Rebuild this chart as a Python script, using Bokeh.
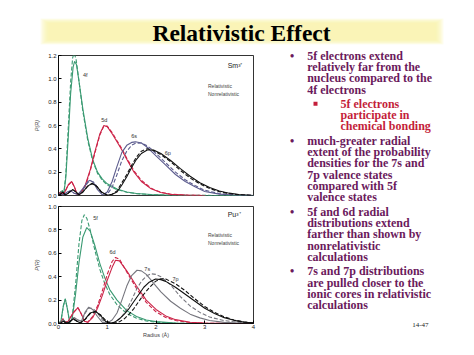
from bokeh.plotting import figure
from bokeh.layouts import column, row
from bokeh.models import (Range1d, FixedTicker, PrintfTickFormatter, Legend,
                          LegendItem, Label)
from bokeh.core.properties import value
from bokeh.embed import file_html
from bokeh.resources import INLINE

# ---------------- data ----------------
TITLE = "Relativistic Effect"
X_TICKS = [0, 1, 2, 3, 4]
YA_TICKS = [0.0, 0.2, 0.4, 0.6, 0.8, 1.0, 1.2]
YB_TICKS = [0.0, 0.2, 0.4, 0.6, 0.8, 1.0]

# (a) Sm3+
sm_4f_r_R = [0, 0.04, 0.08, 0.11, 0.15, 0.2, 0.25, 0.3, 0.33, 0.37, 0.42, 0.5, 0.6, 0.7, 0.8, 0.9, 1.0, 1.2, 1.4, 1.6, 1.9, 2.2, 2.6, 4.0]
sm_4f_r_P = [0, 0.03, 0.04, 0.02, 0.15, 0.5, 0.88, 1.1, 1.15, 1.12, 0.98, 0.74, 0.49, 0.31, 0.2, 0.14, 0.1, 0.055, 0.03, 0.017, 0.008, 0.003, 0.001, 0]
sm_4f_n_R = [0, 0.04, 0.08, 0.11, 0.15, 0.2, 0.25, 0.29, 0.32, 0.36, 0.42, 0.5, 0.6, 0.7, 0.8, 0.9, 1.0, 1.2, 1.4, 1.6, 1.9, 2.2, 2.6, 4.0]
sm_4f_n_P = [0, 0.03, 0.04, 0.02, 0.18, 0.58, 0.98, 1.18, 1.22, 1.17, 0.98, 0.72, 0.47, 0.3, 0.19, 0.13, 0.09, 0.05, 0.028, 0.016, 0.007, 0.003, 0.001, 0]

sm_5d_R = [0, 0.04, 0.08, 0.13, 0.2, 0.27, 0.33, 0.38, 0.45, 0.55, 0.65, 0.75, 0.85, 0.93, 1.0, 1.1, 1.2, 1.3, 1.4, 1.55, 1.7, 1.9, 2.1, 2.3, 2.6, 3.0]
sm_5d_r_P = [0, 0.03, 0.01, 0.03, 0.09, 0.12, 0.07, 0.01, 0.02, 0.09, 0.22, 0.38, 0.53, 0.6, 0.59, 0.53, 0.46, 0.39, 0.31, 0.2, 0.12, 0.057, 0.025, 0.01, 0.003, 0]
sm_5d_n_P = [0, 0.03, 0.01, 0.03, 0.09, 0.12, 0.07, 0.01, 0.02, 0.08, 0.21, 0.37, 0.52, 0.595, 0.595, 0.54, 0.47, 0.4, 0.32, 0.21, 0.13, 0.062, 0.028, 0.011, 0.003, 0]

sm_6s_R = [0, 0.04, 0.08, 0.12, 0.18, 0.25, 0.32, 0.4, 0.5, 0.6, 0.65, 0.72, 0.8, 0.9, 1.0, 1.1, 1.2, 1.3, 1.4, 1.5, 1.58, 1.7, 1.8, 1.9, 2.0, 2.2, 2.4, 2.6, 2.8, 3.0, 3.3, 3.6, 4.0]
sm_6s_r_P = [0, 0.02, 0.005, 0.01, 0.03, 0.04, 0.02, 0.01, 0.06, 0.12, 0.13, 0.11, 0.05, 0.005, 0.03, 0.12, 0.25, 0.37, 0.43, 0.455, 0.46, 0.45, 0.42, 0.38, 0.34, 0.26, 0.18, 0.12, 0.075, 0.035, 0.012, 0.004, 0]
sm_6s_n_P = [0, 0.02, 0.005, 0.01, 0.03, 0.04, 0.02, 0.01, 0.05, 0.11, 0.125, 0.115, 0.07, 0.02, 0.01, 0.07, 0.18, 0.3, 0.38, 0.43, 0.447, 0.45, 0.43, 0.4, 0.36, 0.28, 0.2, 0.135, 0.085, 0.045, 0.016, 0.005, 0]

sm_6p_R = [0, 0.04, 0.08, 0.14, 0.2, 0.29, 0.36, 0.42, 0.5, 0.6, 0.69, 0.78, 0.88, 1.0, 1.1, 1.2, 1.3, 1.4, 1.5, 1.6, 1.7, 1.82, 1.95, 2.1, 2.3, 2.5, 2.7, 2.9, 3.1, 3.3, 3.5, 3.7, 4.0]
sm_6p_r_P = [0, 0.01, 0.03, 0.005, 0.02, 0.05, 0.03, 0.005, 0.03, 0.08, 0.105, 0.08, 0.03, 0.002, 0.01, 0.03, 0.09, 0.16, 0.24, 0.31, 0.36, 0.39, 0.39, 0.36, 0.3, 0.23, 0.165, 0.11, 0.068, 0.038, 0.02, 0.008, 0]
sm_6p_n_P = [0, 0.01, 0.03, 0.005, 0.02, 0.05, 0.03, 0.005, 0.03, 0.08, 0.1, 0.08, 0.03, 0.002, 0.01, 0.04, 0.11, 0.18, 0.26, 0.33, 0.38, 0.4, 0.385, 0.35, 0.29, 0.215, 0.15, 0.1, 0.06, 0.033, 0.017, 0.007, 0]

# (b) Pu3+
pu_5f_r_R = [0, 0.05, 0.1, 0.14, 0.18, 0.23, 0.28, 0.35, 0.42, 0.5, 0.58, 0.65, 0.75, 0.85, 0.95, 1.05, 1.2, 1.4, 1.6, 1.8, 2.0, 2.4, 2.8, 4.0]
pu_5f_r_P = [0, 0.02, 0.15, 0.21, 0.13, 0.01, 0.04, 0.25, 0.52, 0.74, 0.82, 0.79, 0.66, 0.51, 0.39, 0.29, 0.2, 0.11, 0.06, 0.03, 0.016, 0.004, 0.001, 0]
pu_5f_n_R = [0, 0.05, 0.1, 0.14, 0.18, 0.23, 0.28, 0.35, 0.42, 0.48, 0.53, 0.58, 0.65, 0.75, 0.85, 0.95, 1.05, 1.2, 1.4, 1.6, 1.8, 2.0, 2.4, 2.8, 4.0]
pu_5f_n_P = [0, 0.02, 0.15, 0.21, 0.13, 0.01, 0.05, 0.33, 0.68, 0.88, 0.93, 0.9, 0.8, 0.62, 0.46, 0.34, 0.25, 0.16, 0.085, 0.045, 0.022, 0.011, 0.003, 0.0005, 0]

pu_6d_R = [0, 0.05, 0.09, 0.13, 0.2, 0.3, 0.4, 0.47, 0.53, 0.6, 0.7, 0.8, 0.9, 1.0, 1.1, 1.17, 1.25, 1.4, 1.6, 1.8, 2.0, 2.2, 2.4, 2.7, 3.0, 3.4, 4.0]
pu_6d_r_P = [0, 0.01, 0.04, 0.01, 0.02, 0.09, 0.135, 0.08, 0.02, 0.01, 0.05, 0.13, 0.24, 0.37, 0.48, 0.54, 0.535, 0.45, 0.32, 0.2, 0.12, 0.065, 0.033, 0.011, 0.003, 0.001, 0]
pu_6d_n_P = [0, 0.01, 0.04, 0.01, 0.02, 0.09, 0.135, 0.08, 0.02, 0.01, 0.06, 0.15, 0.28, 0.42, 0.53, 0.565, 0.55, 0.44, 0.3, 0.18, 0.1, 0.052, 0.025, 0.008, 0.002, 0.0005, 0]

pu_7s_R = [0, 0.05, 0.1, 0.16, 0.24, 0.32, 0.4, 0.47, 0.55, 0.62, 0.7, 0.8, 0.9, 1.0, 1.1, 1.2, 1.3, 1.4, 1.5, 1.61, 1.7, 1.8, 1.9, 2.0, 2.1, 2.3, 2.5, 2.7, 2.9, 3.1, 3.4, 3.7, 4.0]
pu_7s_r_P = [0, 0.01, 0.03, 0.005, 0.02, 0.05, 0.03, 0.02, 0.1, 0.14, 0.12, 0.06, 0.01, 0.005, 0.03, 0.09, 0.2, 0.32, 0.41, 0.455, 0.45, 0.42, 0.37, 0.32, 0.27, 0.19, 0.13, 0.08, 0.048, 0.025, 0.01, 0.004, 0]
pu_7s_n_P = [0, 0.01, 0.03, 0.005, 0.02, 0.05, 0.03, 0.02, 0.09, 0.13, 0.13, 0.09, 0.03, 0.005, 0.005, 0.02, 0.06, 0.12, 0.2, 0.3, 0.36, 0.405, 0.425, 0.42, 0.4, 0.33, 0.23, 0.15, 0.095, 0.055, 0.025, 0.01, 0]

pu_7p_R = [0, 0.05, 0.1, 0.16, 0.22, 0.3, 0.38, 0.45, 0.55, 0.65, 0.76, 0.86, 0.96, 1.05, 1.15, 1.25, 1.35, 1.45, 1.55, 1.65, 1.75, 1.85, 1.99, 2.1, 2.2, 2.4, 2.6, 2.8, 3.0, 3.2, 3.4, 3.6, 3.8, 4.0]
pu_7p_r_P = [0, 0.005, 0.02, 0.005, 0.01, 0.04, 0.02, 0.005, 0.04, 0.09, 0.105, 0.07, 0.02, 0.002, 0.01, 0.04, 0.08, 0.13, 0.19, 0.25, 0.31, 0.35, 0.38, 0.375, 0.36, 0.31, 0.25, 0.19, 0.13, 0.085, 0.05, 0.027, 0.012, 0.004]
pu_7p_n_P = [0, 0.005, 0.02, 0.005, 0.01, 0.04, 0.02, 0.005, 0.035, 0.085, 0.1, 0.075, 0.03, 0.005, 0.003, 0.015, 0.04, 0.08, 0.13, 0.19, 0.25, 0.3, 0.36, 0.383, 0.38, 0.34, 0.28, 0.21, 0.145, 0.095, 0.057, 0.03, 0.014, 0.005]

A_LABELS = ["4f", "5d", "6s", "6p"]
A_LABEL_R = [0.55, 0.94, 1.55, 2.24]
A_LABEL_P = [1.03, 0.65, 0.506, 0.366]
B_LABELS = ["5f", "6d", "7s", "7p"]
B_LABEL_R = [0.76, 1.11, 1.82, 2.4]
B_LABEL_P = [0.90, 0.615, 0.47, 0.38]

BULLETS = [
    ("main", ["5f electrons extend", "relatively far from the",
              "nucleus compared to the", "4f electrons"]),
    ("sub", ["5f electrons", "participate in", "chemical bonding"]),
    ("main", ["much-greater radial", "extent of the probability",
              "densities for the 7s and", "7p valence states",
              "compared with 5f", "valence states"]),
    ("main", ["5f and 6d radial", "distributions extend",
              "farther than shown by", "nonrelativistic", "calculations"]),
    ("main", ["7s and 7p distributions", "are pulled closer to the",
              "ionic cores in relativistic", "calculations"]),
]
PAGE = "14-47"

# ---------------- styles ----------------
GREEN = "#3a9a72"
RED = "#cc2448"
SLATE = "#5c5c8e"
GREY = "#76767e"
BLACK = "#111111"
PURPLE = "#6b1a5c"
CRIMSON = "#c41e3a"
SANS = value("Liberation Sans")
SERIF = value("Liberation Serif")
LW = 1.1
DASH = "4 2"


def style_plot(p, yticks, show_xlabels):
    p.grid.visible = False
    p.outline_line_color = "black"
    p.outline_line_width = 0.8
    p.background_fill_color = "white"
    for ax in p.axis:
        ax.axis_line_color = "black"
        ax.axis_line_width = 0.8
        ax.major_tick_in = 3
        ax.major_tick_out = 0
        ax.minor_tick_line_color = None
        ax.major_label_text_font = "Liberation Sans"
        ax.major_label_text_font_size = "6px"
        ax.major_label_text_color = "#222222"
        ax.axis_label_text_font = "Liberation Sans"
        ax.axis_label_text_font_size = "5.5px"
        ax.axis_label_text_font_style = "normal"
    if show_xlabels:
        p.xaxis.ticker = FixedTicker(ticks=X_TICKS)
        p.xaxis.major_label_standoff = 1
        p.xaxis.axis_label = "Radius (Å)"
        p.xaxis.axis_label_standoff = 0
    p.yaxis.ticker = FixedTicker(ticks=yticks)
    p.yaxis.formatter = PrintfTickFormatter(format="%.1f")
    p.yaxis.major_label_standoff = 2
    p.yaxis.axis_label = "P(R)"
    p.yaxis.axis_label_text_font_style = "italic"
    p.yaxis.axis_label_standoff = 5


def add_legend(p, loc):
    rs = p.line([], [], line_color="black", line_width=1.6)
    rd = p.line([], [], line_color="black", line_width=1.6, line_dash="3 2")
    lg = Legend(items=[LegendItem(label="Relativistic", renderers=[rs]),
                       LegendItem(label="Nonrelativistic", renderers=[rd])],
                location=loc, glyph_width=16, glyph_height=7, label_height=7,
                label_text_font_size="5px", label_text_font="Liberation Sans",
                label_standoff=5, padding=0, margin=0, spacing=1,
                border_line_alpha=0, background_fill_alpha=0)
    p.add_layout(lg)


# ---------------- title ----------------
tf = figure(width=474, height=50, x_range=Range1d(0, 474), y_range=Range1d(50, 0),
            output_backend="svg", toolbar_location=None, min_border=0,
            x_axis_type=None, y_axis_type=None)
tf.grid.visible = False
tf.outline_line_color = None
for i in range(8):
    d = i * 1.1
    tf.quad(left=40 + d, right=443 - d, top=18 + d * 0.6, bottom=44 - d * 0.6,
            fill_color="#f8f3a8", fill_alpha=0.18, line_color=None)
tf.text(x=[241], y=[32], text=[TITLE], text_font=SERIF, text_font_style="bold",
        text_font_size="23.5px", text_align="center", text_baseline="middle",
        text_color="black")

# ---------------- plot (a) ----------------
pa = figure(width=270, height=150, x_range=Range1d(0, 4), y_range=Range1d(0, 1.2),
            output_backend="svg", toolbar_location=None, x_axis_type=None,
            min_border_left=58, min_border_right=17, min_border_top=5, min_border_bottom=5)
style_plot(pa, YA_TICKS, False)
pa.line(sm_4f_r_R, sm_4f_r_P, line_color=GREEN, line_width=LW)
pa.line(sm_4f_n_R, sm_4f_n_P, line_color=GREEN, line_width=LW, line_dash=DASH)
pa.line(sm_5d_R, sm_5d_r_P, line_color=RED, line_width=LW)
pa.line(sm_5d_R, sm_5d_n_P, line_color=RED, line_width=LW, line_dash=DASH)
pa.line(sm_6s_R, sm_6s_r_P, line_color=SLATE, line_width=LW)
pa.line(sm_6s_R, sm_6s_n_P, line_color=SLATE, line_width=LW, line_dash=DASH)
pa.line(sm_6p_R, sm_6p_r_P, line_color=BLACK, line_width=LW)
pa.line(sm_6p_R, sm_6p_n_P, line_color=BLACK, line_width=LW, line_dash=DASH)
pa.text(x=A_LABEL_R, y=A_LABEL_P, text=A_LABELS, text_font=SANS, text_font_size="5.5px",
        text_align="center", text_baseline="middle", text_color="#333333")
pa.add_layout(Label(x=3.47, y=1.114, text="Sm³⁺", text_font="Liberation Sans",
                    text_font_size="7px", text_baseline="middle", text_color="#222222"))
pa.add_layout(Label(x=-0.51, y=1.2, text="(a)", text_font="Liberation Sans",
                    text_font_size="4.5px", text_baseline="middle", text_align="center",
                    text_color="#444444"))
add_legend(pa, (129, 98))

# ---------------- plot (b) ----------------
pb = figure(width=270, height=155, x_range=Range1d(0, 4), y_range=Range1d(0, 1.0),
            output_backend="svg", toolbar_location=None,
            min_border_left=58, min_border_right=17, min_border_top=6, min_border_bottom=32)
style_plot(pb, YB_TICKS, True)
pb.line(pu_5f_r_R, pu_5f_r_P, line_color=GREEN, line_width=LW)
pb.line(pu_5f_n_R, pu_5f_n_P, line_color=GREEN, line_width=LW, line_dash=DASH)
pb.line(pu_6d_R, pu_6d_r_P, line_color=RED, line_width=LW)
pb.line(pu_6d_R, pu_6d_n_P, line_color=RED, line_width=LW, line_dash=DASH)
pb.line(pu_7s_R, pu_7s_r_P, line_color=GREY, line_width=LW)
pb.line(pu_7s_R, pu_7s_n_P, line_color=GREY, line_width=LW, line_dash=DASH)
pb.line(pu_7p_R, pu_7p_r_P, line_color=BLACK, line_width=LW)
pb.line(pu_7p_R, pu_7p_n_P, line_color=BLACK, line_width=LW, line_dash=DASH)
pb.text(x=B_LABEL_R, y=B_LABEL_P, text=B_LABELS, text_font=SANS, text_font_size="5.5px",
        text_align="center", text_baseline="middle", text_color="#333333")
pb.add_layout(Label(x=3.47, y=0.93, text="Pu³⁺", text_font="Liberation Sans",
                    text_font_size="7px", text_baseline="middle", text_color="#222222"))
pb.add_layout(Label(x=-0.47, y=0.983, text="(b)", text_font="Liberation Sans",
                    text_font_size="4.5px", text_baseline="middle", text_align="center",
                    text_color="#444444"))
add_legend(pb, (129, 77))

# ---------------- bullet text ----------------
tx = figure(width=204, height=305, x_range=Range1d(270, 474), y_range=Range1d(355, 50),
            output_backend="svg", toolbar_location=None, min_border=0,
            x_axis_type=None, y_axis_type=None)
tx.grid.visible = False
tx.outline_line_color = None

y = 55.0
STEP = 11.35
GAP = 14.2
lines_x, lines_y, lines_t, lines_c = [], [], [], []
bul_x, bul_y = [], []
sq_x, sq_y = [], []
for gi, (kind, lines) in enumerate(BULLETS):
    if gi > 0:
        y += GAP
    if kind == "main":
        bul_x.append(291.7)
        bul_y.append(y)
        tx0, col = 306.7, PURPLE
    else:
        sq_x.append(315.0)
        sq_y.append(y)
        tx0, col = 340.0, CRIMSON
    for li, t in enumerate(lines):
        if li > 0:
            y += STEP
        lines_x.append(tx0)
        lines_y.append(y)
        lines_t.append(t)
        lines_c.append(col)

tx.text(x=lines_x, y=lines_y, text=lines_t, text_color=lines_c, text_font=SERIF,
        text_font_style="bold", text_font_size="12px", text_baseline="middle",
        text_align="left")
tx.text(x=bul_x, y=bul_y, text=["•"] * len(bul_x), text_color=PURPLE, text_font=SERIF,
        text_font_style="bold", text_font_size="12px", text_baseline="middle",
        text_align="center")
tx.scatter(sq_x, sq_y, marker="square", size=4, fill_color=CRIMSON, line_color=None)
tx.text(x=[428], y=[324.5], text=[PAGE], text_font=SERIF, text_font_size="7px",
        text_align="right", text_baseline="middle", text_color="#222222")

layout = column(tf, row(column(pa, pb), tx))
open("out.html", "w").write(file_html(layout, INLINE, TITLE))
